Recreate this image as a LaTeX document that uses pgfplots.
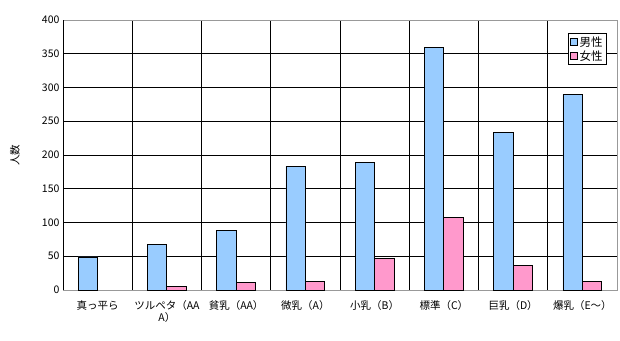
\documentclass[border=0pt]{standalone}
\usepackage{pgfplots}
\pgfplotsset{compat=1.18}
\usepackage{fontspec}
\setmainfont{Noto Sans CJK JP}
\definecolor{male}{HTML}{99CCFF}
\definecolor{female}{HTML}{FF99CC}
\begin{document}
\begin{tikzpicture}[x=1bp,y=1bp]
\useasboundingbox (0,0) rectangle (620,340);
\fill[white] (0,0) rectangle (620,340);
\begin{axis}[
  at={(63bp,50bp)}, anchor=south west,
  scale only axis, width=554bp, height=270bp,
  xmin=-0.5, xmax=7.5, ymin=0, ymax=400,
  ytick={0,50,...,400},
  xtick={0,...,7},
  xticklabels={真っ平ら,{ツルペタ（AA\\A）},貧乳（AA）,微乳（A）,小乳（B）,標準（C）,巨乳（D）,爆乳（E～）},
  xticklabel style={align=center, font=\fontsize{10.5bp}{12bp}\selectfont, yshift=-3bp},
  yticklabel style={font=\fontsize{10.5bp}{12bp}\selectfont},
  /pgf/number format/assume math mode=true,
  minor xtick={0.5,1.5,...,6.5},
  xminorgrids, ymajorgrids,
  grid style={black, line width=0.8bp},
  minor grid style={black, line width=0.8bp},
  major x tick style={draw=none},
  minor x tick style={draw=none},
  ytick style={draw=none},
  axis line style={gray!80, line width=0.8bp},
  ybar=0pt, bar width=0.28,
  ylabel={人数},
  ylabel style={font=\fontsize{10.5bp}{12bp}\selectfont, at={(-48bp,135bp)}, anchor=center},
  legend style={at={(0.982,0.952)}, anchor=north east, draw=black, line width=0.8bp,
    font=\fontsize{11.5bp}{13bp}\selectfont, inner xsep=2bp, inner ysep=1bp, row sep=-1bp,
    legend cell align=left},
  legend image code/.code={\draw[#1, draw=black, line width=0.5bp] (0bp,-3bp) rectangle (7bp,4bp);},
]
\addplot[fill=male, draw=black, line width=0.8bp] coordinates {(0,49) (1,68) (2,88) (3,183) (4,189) (5,360) (6,234) (7,290)};
\addplot[fill=female, draw=black, line width=0.8bp] coordinates {(0,nan) (1,5.5) (2,11.5) (3,13) (4,47) (5,108) (6,37) (7,13)};
\legend{男性,女性}
\draw[black, line width=0.8bp] (axis cs:-0.5,0) -- (axis cs:-0.5,400);
\end{axis}
\end{tikzpicture}
\end{document}
